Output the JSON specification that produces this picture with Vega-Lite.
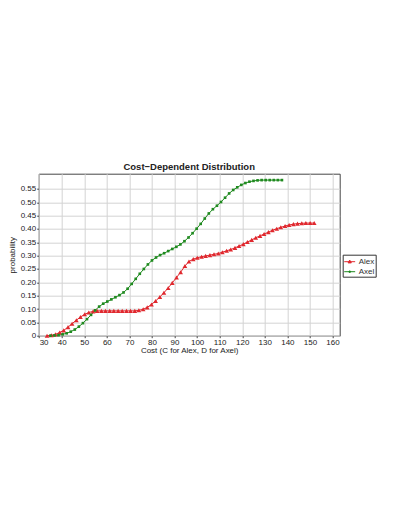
{
  "$schema": "https://vega.github.io/schema/vega-lite/v6.json",
  "width": 301,
  "height": 162,
  "autosize": {"type": "none"},
  "padding": {"left": 38.7, "top": 173.7, "right": 59, "bottom": 180},
  "background": "white",
  "config": {
    "font": "Liberation Sans",
    "view": {"stroke": "#444", "strokeWidth": 1},
    "axis": {"labelFont": "Liberation Sans", "titleFont": "Liberation Sans", "labelFontSize": 8, "titleFontSize": 8, "labelColor": "#222", "titleColor": "#222", "titleFontWeight": "normal", "gridColor": "#d4d4d4", "gridWidth": 1, "domain": false, "tickColor": "#444", "tickSize": 2}
  },
  "title": {"text": "Cost−Dependent Distribution", "fontSize": 9.5, "font": "Liberation Sans", "fontWeight": "bold", "color": "#222", "anchor": "middle", "offset": 2},
  "datasets": {
    "alex": [
      {"cost": 33.5, "p": 0}, {"cost": 35.4, "p": 0.002}, {"cost": 37.2, "p": 0.005}, {"cost": 39.1, "p": 0.012},
      {"cost": 40.9, "p": 0.02}, {"cost": 42.8, "p": 0.032}, {"cost": 44.6, "p": 0.045}, {"cost": 46.5, "p": 0.058},
      {"cost": 48.3, "p": 0.07}, {"cost": 50.2, "p": 0.08}, {"cost": 52.0, "p": 0.087}, {"cost": 53.9, "p": 0.091},
      {"cost": 55.7, "p": 0.093}, {"cost": 57.6, "p": 0.093}, {"cost": 59.4, "p": 0.093}, {"cost": 61.3, "p": 0.093},
      {"cost": 63.1, "p": 0.093}, {"cost": 65.0, "p": 0.093}, {"cost": 66.8, "p": 0.093}, {"cost": 68.7, "p": 0.093},
      {"cost": 70.5, "p": 0.093}, {"cost": 72.4, "p": 0.093}, {"cost": 74.2, "p": 0.095}, {"cost": 76.1, "p": 0.099},
      {"cost": 77.9, "p": 0.106}, {"cost": 79.8, "p": 0.117}, {"cost": 81.6, "p": 0.13}, {"cost": 83.5, "p": 0.145},
      {"cost": 85.3, "p": 0.161}, {"cost": 87.2, "p": 0.179}, {"cost": 89.0, "p": 0.198}, {"cost": 90.9, "p": 0.218},
      {"cost": 92.7, "p": 0.238}, {"cost": 94.6, "p": 0.261}, {"cost": 96.4, "p": 0.278}, {"cost": 98.3, "p": 0.287},
      {"cost": 100.1, "p": 0.292}, {"cost": 102.0, "p": 0.296}, {"cost": 103.8, "p": 0.299}, {"cost": 105.7, "p": 0.302},
      {"cost": 107.5, "p": 0.305}, {"cost": 109.4, "p": 0.308}, {"cost": 111.2, "p": 0.313}, {"cost": 113.1, "p": 0.318},
      {"cost": 114.9, "p": 0.323}, {"cost": 116.8, "p": 0.329}, {"cost": 118.6, "p": 0.336}, {"cost": 120.5, "p": 0.343},
      {"cost": 122.3, "p": 0.351}, {"cost": 124.2, "p": 0.359}, {"cost": 126.0, "p": 0.367}, {"cost": 127.9, "p": 0.374},
      {"cost": 129.7, "p": 0.381}, {"cost": 131.6, "p": 0.388}, {"cost": 133.4, "p": 0.395}, {"cost": 135.3, "p": 0.401},
      {"cost": 137.1, "p": 0.406}, {"cost": 139.0, "p": 0.411}, {"cost": 140.8, "p": 0.415}, {"cost": 142.7, "p": 0.418},
      {"cost": 144.5, "p": 0.42}, {"cost": 146.4, "p": 0.421}, {"cost": 148.2, "p": 0.422}, {"cost": 150.1, "p": 0.422},
      {"cost": 151.9, "p": 0.422}
    ],
    "axel": [
      {"cost": 35, "p": 0}, {"cost": 36.8, "p": 0.001}, {"cost": 38.6, "p": 0.002}, {"cost": 40.4, "p": 0.005},
      {"cost": 42.2, "p": 0.009}, {"cost": 44, "p": 0.015}, {"cost": 45.8, "p": 0.023}, {"cost": 47.6, "p": 0.034},
      {"cost": 49.4, "p": 0.047}, {"cost": 51.2, "p": 0.062}, {"cost": 53, "p": 0.078}, {"cost": 54.8, "p": 0.095},
      {"cost": 56.6, "p": 0.109}, {"cost": 58.4, "p": 0.12}, {"cost": 60.2, "p": 0.128}, {"cost": 62, "p": 0.136},
      {"cost": 63.8, "p": 0.144}, {"cost": 65.6, "p": 0.152}, {"cost": 67.4, "p": 0.162}, {"cost": 69.2, "p": 0.176},
      {"cost": 71, "p": 0.194}, {"cost": 72.8, "p": 0.213}, {"cost": 74.6, "p": 0.232}, {"cost": 76.4, "p": 0.25},
      {"cost": 78.2, "p": 0.267}, {"cost": 80, "p": 0.282}, {"cost": 81.8, "p": 0.293}, {"cost": 83.6, "p": 0.302},
      {"cost": 85.4, "p": 0.309}, {"cost": 87.2, "p": 0.317}, {"cost": 89, "p": 0.325}, {"cost": 90.8, "p": 0.333},
      {"cost": 92.6, "p": 0.342}, {"cost": 94.4, "p": 0.354}, {"cost": 96.2, "p": 0.368}, {"cost": 98, "p": 0.384},
      {"cost": 99.8, "p": 0.401}, {"cost": 101.6, "p": 0.419}, {"cost": 103.4, "p": 0.439}, {"cost": 105.2, "p": 0.458},
      {"cost": 107, "p": 0.474}, {"cost": 108.8, "p": 0.487}, {"cost": 110.6, "p": 0.501}, {"cost": 112.4, "p": 0.517},
      {"cost": 114.2, "p": 0.533}, {"cost": 116, "p": 0.546}, {"cost": 117.8, "p": 0.556}, {"cost": 119.6, "p": 0.565},
      {"cost": 121.4, "p": 0.572}, {"cost": 123.2, "p": 0.577}, {"cost": 125, "p": 0.58}, {"cost": 126.8, "p": 0.582},
      {"cost": 128.6, "p": 0.583}, {"cost": 130.4, "p": 0.583}, {"cost": 132.2, "p": 0.583}, {"cost": 134, "p": 0.583},
      {"cost": 135.8, "p": 0.583}, {"cost": 137.6, "p": 0.583}
    ]
  },
  "encoding": {
    "x": {"field": "cost", "type": "quantitative", "title": "Cost (C for Alex, D for Axel)",
      "scale": {"domain": [29.8, 163.2], "nice": false, "zero": false},
      "axis": {"values": [30, 40, 50, 60, 70, 80, 90, 100, 110, 120, 130, 140, 150, 160], "labelPadding": 1, "titlePadding": 0}},
    "y": {"field": "p", "type": "quantitative", "title": "probability",
      "scale": {"domain": [0, 0.607], "nice": false},
      "axis": {"values": [0, 0.05, 0.1, 0.15, 0.2, 0.25, 0.3, 0.35, 0.4, 0.45, 0.5, 0.55], "labelExpr": "datum.value == 0 ? '0' : format(datum.value, '.2f')", "labelPadding": 1, "titlePadding": 4}}
  },
  "layer": [
    {"data": {"name": "alex"}, "transform": [{"calculate": "'Alex'", "as": "who"}],
      "mark": {"type": "line", "strokeWidth": 1},
      "encoding": {"color": {"field": "who", "type": "nominal", "scale": {"domain": ["Alex", "Axel"], "range": ["#e0282e", "#1f8a1f"]},
        "legend": {"title": null, "orient": "none", "legendX": 304, "legendY": 81, "labelFontSize": 8, "labelColor": "#333",
          "symbolSize": 120, "symbolStrokeWidth": 1, "symbolType": "M-1,0H1M-0.3,0.22L0,-0.3L0.3,0.22Z",
          "strokeColor": "#333", "padding": 1, "rowPadding": 0, "labelOffset": 3,
          "encode": {"symbols": {"update": {
            "shape": {"signal": "datum.value == 'Alex' ? 'M-1,0H1M-0.3,0.22L0,-0.3L0.3,0.22Z' : 'M-1,0H1M-0.12,-0.12H0.12V0.12H-0.12Z'"},
            "fill": {"signal": "datum.value == 'Alex' ? '#e0282e' : '#1f8a1f'"}}}}}}}},
    {"data": {"name": "axel"}, "transform": [{"calculate": "'Axel'", "as": "who"}],
      "mark": {"type": "line", "strokeWidth": 1},
      "encoding": {"color": {"field": "who", "type": "nominal"}}},
    {"data": {"name": "alex"}, "mark": {"type": "point", "filled": true, "opacity": 1, "size": 22, "shape": "triangle-up", "color": "#e0282e"}},
    {"data": {"name": "axel"}, "mark": {"type": "point", "filled": true, "opacity": 1, "size": 7, "shape": "square", "color": "#1f8a1f"}}
  ]
}
